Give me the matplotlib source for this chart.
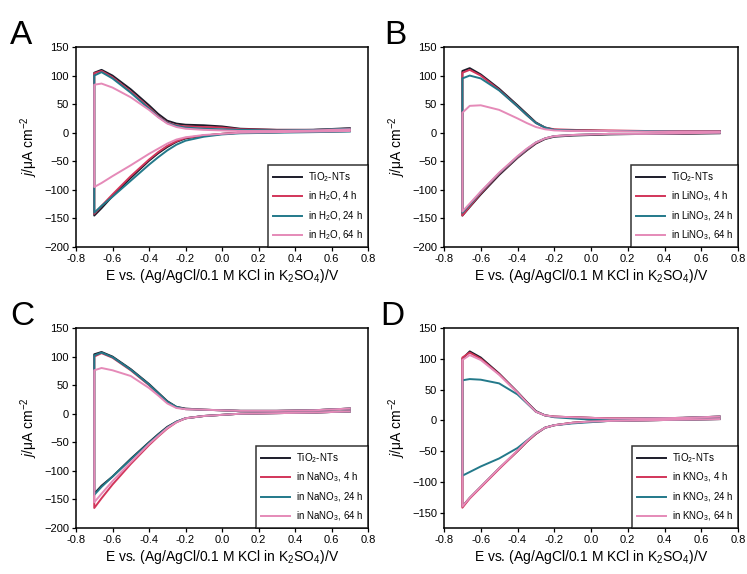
import matplotlib
matplotlib.use("Agg")
import matplotlib.pyplot as plt

plt.rcParams['font.family'] = ['Liberation Sans', 'DejaVu Sans']
plt.rcParams['mathtext.fontset'] = 'custom'
plt.rcParams['mathtext.rm'] = 'Liberation Sans'
plt.rcParams['mathtext.it'] = 'Liberation Sans:italic'
plt.rcParams['mathtext.default'] = 'regular'

# shared potential grid (V)
E = [-0.70, -0.66, -0.60, -0.50, -0.40, -0.35, -0.30, -0.25, -0.20, -0.10, 0.00, 0.10, 0.30, 0.50, 0.70]

# Panel A (H2O)
A_tio2_up = [105, 110, 100, 76, 48, 33, 21, 16, 14, 13, 11, 7, 5, 5, 8]
A_tio2_lo = [-145, -132, -111, -79, -49, -36, -25, -16, -10, -5, -2, 0, 1, 2, 3]
A_4h_up = [104, 108, 97, 72, 44, 29, 18, 13, 11, 10, 9, 6, 5, 5, 7]
A_4h_lo = [-142, -128, -108, -76, -47, -34, -23, -15, -9, -5, -2, 0, 1, 2, 3]
A_24h_up = [100, 106, 95, 70, 42, 28, 17, 12, 9, 7, 6, 5, 4, 5, 7]
A_24h_lo = [-140, -128, -112, -84, -56, -43, -31, -21, -14, -7, -3, -1, 0, 1, 2]
A_64h_up = [84, 86, 79, 62, 40, 27, 16, 10, 7, 5, 4, 3, 3, 4, 6]
A_64h_lo = [-95, -88, -76, -57, -37, -28, -19, -12, -8, -4, -2, 0, 1, 2, 3]

# Panel B (LiNO3)
B_tio2_up = [108, 113, 102, 77, 48, 33, 18, 9, 5, 4, 4, 3, 3, 3, 3]
B_tio2_lo = [-145, -130, -108, -74, -44, -31, -19, -11, -7, -5, -4, -3, -2, -2, -1]
B_4h_up = [105, 110, 100, 75, 46, 31, 17, 9, 6, 5, 4, 4, 3, 3, 3]
B_4h_lo = [-145, -129, -106, -72, -43, -30, -18, -10, -6, -4, -3, -2, -2, -1, 0]
B_24h_up = [95, 100, 95, 74, 46, 31, 17, 9, 5, 4, 3, 3, 3, 2, 2]
B_24h_lo = [-140, -126, -104, -71, -42, -29, -17, -10, -6, -4, -3, -2, -2, -1, 0]
B_64h_up = [35, 47, 48, 40, 25, 17, 10, 6, 4, 3, 3, 3, 2, 2, 2]
B_64h_lo = [-138, -124, -103, -70, -41, -28, -17, -10, -6, -4, -3, -2, -2, -1, 0]

# Panel C (NaNO3)
C_tio2_up = [104, 108, 100, 78, 52, 37, 22, 12, 9, 7, 6, 5, 5, 6, 9]
C_tio2_lo = [-140, -126, -110, -79, -50, -36, -23, -14, -8, -4, -2, 0, 1, 2, 4]
C_4h_up = [100, 106, 98, 76, 50, 35, 20, 11, 8, 7, 6, 5, 5, 6, 9]
C_4h_lo = [-165, -148, -124, -88, -55, -40, -26, -15, -8, -4, -2, 0, 1, 2, 4]
C_24h_up = [102, 107, 99, 77, 51, 36, 21, 12, 8, 7, 6, 5, 5, 6, 9]
C_24h_lo = [-142, -128, -110, -80, -51, -37, -24, -14, -8, -4, -2, 0, 1, 2, 4]
C_64h_up = [76, 80, 76, 66, 45, 32, 18, 10, 8, 7, 6, 5, 5, 6, 9]
C_64h_lo = [-155, -140, -118, -85, -53, -39, -25, -15, -8, -4, -2, 0, 1, 2, 4]

# Panel D (KNO3)
D_tio2_up = [100, 112, 102, 76, 46, 30, 15, 8, 6, 5, 4, 3, 3, 4, 6]
D_tio2_lo = [-140, -126, -108, -78, -50, -35, -22, -12, -8, -4, -2, -1, 0, 1, 2]
D_4h_up = [102, 110, 100, 75, 45, 29, 14, 8, 6, 5, 4, 3, 3, 4, 6]
D_4h_lo = [-142, -127, -109, -79, -50, -35, -22, -12, -8, -4, -2, -1, 0, 1, 2]
D_24h_up = [65, 67, 66, 60, 42, 28, 14, 8, 5, 3, 1, 2, 3, 4, 6]
D_24h_lo = [-90, -84, -75, -62, -45, -33, -21, -12, -8, -5, -3, -1, 0, 1, 2]
D_64h_up = [98, 106, 98, 74, 45, 29, 14, 8, 6, 5, 4, 3, 3, 4, 6]
D_64h_lo = [-140, -126, -108, -78, -49, -34, -21, -12, -8, -4, -2, -1, 0, 1, 2]

letters = ["A", "B", "C", "D"]
media = ["H$_2$O", "LiNO$_3$", "NaNO$_3$", "KNO$_3$"]
times = ["4 h", "24 h", "64 h"]
ylims = [(-200, 150), (-200, 150), (-200, 150), (-175, 150)]
yticks = [[-200, -150, -100, -50, 0, 50, 100, 150]] * 3 + [[-150, -100, -50, 0, 50, 100, 150]]
xticks = [-0.8, -0.6, -0.4, -0.2, 0.0, 0.2, 0.4, 0.6, 0.8]
colors = ["#1c1c2a", "#d2355a", "#23798a", "#e58ab8"]

panels = [
    [(A_tio2_up, A_tio2_lo), (A_4h_up, A_4h_lo), (A_24h_up, A_24h_lo), (A_64h_up, A_64h_lo)],
    [(B_tio2_up, B_tio2_lo), (B_4h_up, B_4h_lo), (B_24h_up, B_24h_lo), (B_64h_up, B_64h_lo)],
    [(C_tio2_up, C_tio2_lo), (C_4h_up, C_4h_lo), (C_24h_up, C_24h_lo), (C_64h_up, C_64h_lo)],
    [(D_tio2_up, D_tio2_lo), (D_4h_up, D_4h_lo), (D_24h_up, D_24h_lo), (D_64h_up, D_64h_lo)],
]

W, H = 747, 574
fig = plt.figure(figsize=(W / 100, H / 100), dpi=100)
boxes = [(76, 47, 368, 247), (444, 47, 738, 247), (76, 328, 368, 528), (444, 328, 738, 528)]
letter_pos = [(10, 44), (384, 44), (10, 325), (380, 325)]

for i, (x0, y0, x1, y1) in enumerate(boxes):
    ax = fig.add_axes([x0 / W, 1 - y1 / H, (x1 - x0) / W, (y1 - y0) / H])
    labels = ["TiO$_2$-NTs"] + ["in %s, %s" % (media[i], t) for t in times]
    for k, (up, lo) in enumerate(panels[i]):
        xs = E[::-1] + E
        ys = lo[::-1] + up
        ax.plot(xs, ys, color=colors[k], lw=1.4, label=labels[k], solid_joinstyle='round')
    ax.set_xlim(-0.8, 0.8)
    ax.set_ylim(*ylims[i])
    ax.set_xticks(xticks)
    ax.set_xticklabels(["%.1f" % v for v in xticks])
    ax.set_yticks(yticks[i])
    ax.tick_params(direction='out', length=3, width=0.9, labelsize=8, pad=2)
    for s in ax.spines.values():
        s.set_linewidth(1.1)
    ax.set_xlabel("E vs. (Ag/AgCl/0.1 M KCl in K$_2$SO$_4$)/V", fontsize=10, labelpad=2)
    ax.set_ylabel(r"$\mathit{j}$/μA cm$^{-2}$", fontsize=10, labelpad=3)
    leg = ax.legend(loc='lower right', fontsize=7, frameon=True, fancybox=False,
                    edgecolor='black', borderaxespad=0, handlelength=3.0,
                    labelspacing=0.6, borderpad=0.5, handletextpad=0.6)
    leg.get_frame().set_linewidth(1.1)
    fig.text(letter_pos[i][0] / W, 1 - letter_pos[i][1] / H, letters[i], fontsize=24,
             ha='left', va='baseline')

fig.savefig("out.png", dpi=100)
